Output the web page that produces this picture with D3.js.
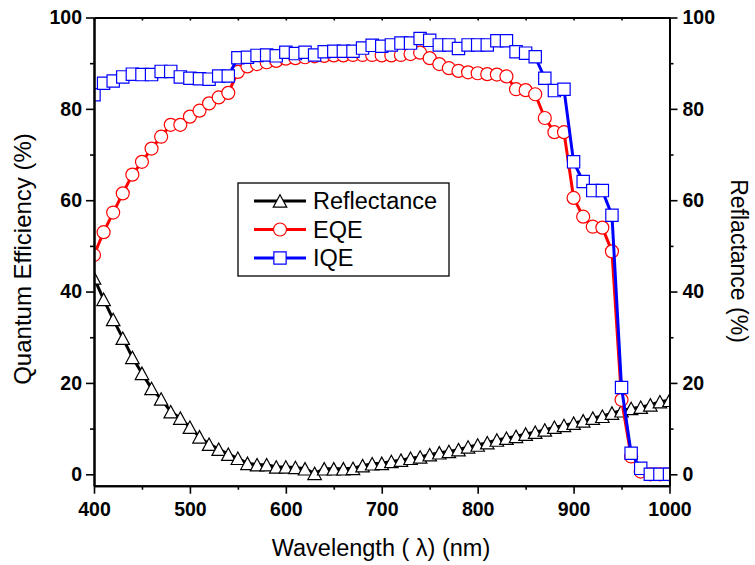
<!DOCTYPE html>
<html>
<head>
<meta charset="utf-8">
<script src="https://cdn.jsdelivr.net/npm/d3@7"></script>
<style>
  body { margin: 0; background: #fff; }
  svg { display: block; font-family: "Liberation Sans", Arial, sans-serif; }
  .tick text { font-weight: bold; font-size: 19.5px; fill: #000; }
  .axis path, .axis line { stroke: #000; }
</style>
</head>
<body>
<div id="chart"></div>
<script>
// wavelength (nm)
const wavelength = [400, 410, 420, 430, 440, 450, 460, 470, 480, 490, 500, 510, 520, 530, 540, 550,
  560, 570, 580, 590, 600, 610, 620, 630, 640, 650, 660, 670, 680, 690, 700,
  710, 720, 730, 740, 750, 760, 770, 780, 790, 800, 810, 820, 830, 840, 850,
  860, 870, 880, 890, 900, 910, 920, 930, 940, 950, 960, 970, 980, 990, 1000];

const reflectance = [43.0, 38.3, 33.9, 29.8, 25.6, 22.1, 18.8, 16.5, 13.7, 12.3, 10.3, 8.2, 6.6, 5.5, 4.4, 3.5,
  2.4, 2.1, 2.1, 1.6, 1.6, 1.5, 1.2, 0.2, 1.2, 1.2, 1.2, 1.3, 1.9, 2.3, 2.4,
  2.8, 3.1, 3.5, 3.8, 4.3, 4.7, 5.0, 5.4, 6.0, 6.4, 6.9, 7.5, 7.9, 8.3, 8.8,
  9.2, 9.7, 10.3, 10.7, 11.2, 11.7, 12.3, 12.7, 13.4, 13.9, 14.4, 14.7, 15.2, 15.9, 16.2];

const eqe = [48.0, 53.0, 57.3, 61.5, 65.6, 68.4, 71.3, 73.9, 76.5, 76.5, 78.3, 79.6, 81.2, 82.5, 83.5, 88.1,
  89.3, 89.8, 90.2, 90.5, 91.0, 91.1, 91.3, 91.5, 91.6, 91.7, 91.7, 91.8, 91.8, 91.8, 91.7,
  91.7, 91.8, 92.0, 92.3, 91.1, 89.8, 88.9, 88.3, 88.0, 87.8, 87.6, 87.5, 87.1, 84.3, 84.1,
  83.2, 78.0, 74.9, 74.9, 60.5, 56.4, 54.2, 54.0, 48.8, 16.3, 3.9, 0.6, 0, 0, 0];

const iqe = [83.1, 85.6, 86.1, 87.0, 87.6, 87.5, 87.5, 88.2, 88.2, 87.0, 86.7, 86.6, 86.5, 87.2, 87.2, 91.2,
  91.3, 91.7, 91.8, 91.6, 92.4, 92.1, 92.4, 91.8, 92.5, 92.6, 92.6, 92.6, 93.3, 93.9, 93.7,
  94.0, 94.4, 94.4, 95.4, 95.0, 94.0, 94.0, 93.2, 94.0, 94.0, 94.0, 94.9, 94.9, 92.5, 92.2,
  91.4, 86.7, 84.0, 84.3, 68.4, 64.1, 62.1, 62.1, 56.7, 19.0, 4.6, 1.3, 0, 0, 0];

const xMajor = [400, 500, 600, 700, 800, 900, 1000];
const xMinor = [450, 550, 650, 750, 850, 950];
const yMajor = [0, 20, 40, 60, 80, 100];
const yMinor = [10, 30, 50, 70, 90];

const width = 755, height = 565;
const margin = { left: 94, right: 85.5, top: 17.5, bottom: 79.3 };

const svg = d3.select("#chart").append("svg")
  .attr("width", width)
  .attr("height", height);

const x = d3.scaleLinear().domain([400, 1000]).range([margin.left, width - margin.right]);
const y = d3.scaleLinear().domain([-2.5, 100]).range([height - margin.bottom, margin.top]);

// custom marker shapes for d3.symbol (size = box width in px)
const triangleUp = {
  draw(ctx, s) {
    const h = s / 2;
    ctx.moveTo(0, -h * 0.92);
    ctx.lineTo(h, h * 0.92);
    ctx.lineTo(-h, h * 0.92);
    ctx.closePath();
  }
};
const squareBox = {
  draw(ctx, s) {
    const h = s / 2;
    ctx.rect(-h, -h, s, s);
  }
};
const circleBox = {
  draw(ctx, s) {
    const r = s / 2;
    ctx.moveTo(r, 0);
    ctx.arc(0, 0, r, 0, 2 * Math.PI);
  }
};

const series = [
  { name: "Reflectance", values: reflectance, color: "#000000", shape: triangleUp, size: 13.5 },
  { name: "EQE", values: eqe, color: "#ff0000", shape: circleBox, size: 13 },
  { name: "IQE", values: iqe, color: "#0000ff", shape: squareBox, size: 12.3 }
];

svg.append("clipPath").attr("id", "plotClip")
  .append("rect")
  .attr("x", x.range()[0]).attr("y", y.range()[1])
  .attr("width", x.range()[1] - x.range()[0])
  .attr("height", y.range()[0] - y.range()[1]);

const plot = svg.append("g").attr("clip-path", "url(#plotClip)");

const line = d3.line()
  .x((d, i) => x(wavelength[i]))
  .y(d => y(d));

series.forEach(s => {
  const g = plot.append("g");
  g.append("path")
    .datum(s.values)
    .attr("fill", "none")
    .attr("stroke", s.color)
    .attr("stroke-width", 3)
    .attr("stroke-linejoin", "round")
    .attr("d", line);

  g.selectAll("path.marker")
    .data(s.values)
    .join("path")
    .attr("class", "marker")
    .attr("transform", (d, i) => `translate(${x(wavelength[i])},${y(d)})`)
    .attr("d", d3.symbol(s.shape, s.size))
    .attr("fill", "#fff")
    .attr("stroke", s.color)
    .attr("stroke-width", 1.2);
});

// axes
const fmt = d3.format("d");

const axisBottomG = svg.append("g").attr("class", "axis")
  .attr("transform", `translate(0,${y.range()[0]})`);
axisBottomG.call(d3.axisBottom(x).tickValues(xMajor).tickFormat(fmt).tickSize(8).tickPadding(8).tickSizeOuter(0));
axisBottomG.append("g").call(d3.axisBottom(x).tickValues(xMinor).tickSize(4).tickFormat("").tickSizeOuter(0));

const axisTopG = svg.append("g").attr("class", "axis")
  .attr("transform", `translate(0,${y.range()[1]})`);
axisTopG.call(d3.axisBottom(x).tickValues(xMajor.concat(xMinor)).tickSize(3).tickFormat("").tickSizeOuter(0));

const axisLeftG = svg.append("g").attr("class", "axis")
  .attr("transform", `translate(${x.range()[0]},0)`);
axisLeftG.call(d3.axisLeft(y).tickValues(yMajor).tickFormat(fmt).tickSize(8).tickPadding(4).tickSizeOuter(0));
axisLeftG.append("g").call(d3.axisLeft(y).tickValues(yMinor).tickSize(4).tickFormat("").tickSizeOuter(0));

const axisRightG = svg.append("g").attr("class", "axis")
  .attr("transform", `translate(${x.range()[1]},0)`);
axisRightG.call(d3.axisRight(y).tickValues(yMajor).tickFormat(fmt).tickSize(8).tickPadding(5).tickSizeOuter(0));
axisRightG.append("g").call(d3.axisRight(y).tickValues(yMinor).tickSize(4).tickFormat("").tickSizeOuter(0));

svg.selectAll(".axis path.domain").attr("stroke-width", 2);
svg.selectAll(".axis line").attr("stroke-width", 1.6);

// axis titles
svg.append("text")
  .attr("x", 381)
  .attr("y", 556)
  .attr("text-anchor", "middle")
  .attr("font-size", 23.5)
  .text("Wavelength ( λ) (nm)");

svg.append("text")
  .attr("transform", "translate(31,259) rotate(-90)")
  .attr("text-anchor", "middle")
  .attr("font-size", 24)
  .text("Quantum Efficiency (%)");

svg.append("text")
  .attr("transform", "translate(731,261) rotate(90)")
  .attr("text-anchor", "middle")
  .attr("font-size", 23)
  .text("Reflactance (%)");

// legend
const legend = svg.append("g").attr("transform", "translate(238,183)");
legend.append("rect")
  .attr("width", 211).attr("height", 93)
  .attr("fill", "#fff").attr("stroke", "#000").attr("stroke-width", 1.3);

const item = legend.selectAll("g.item")
  .data(series)
  .join("g")
  .attr("class", "item")
  .attr("transform", (d, i) => `translate(0,${18 + i * 28.5})`);

item.append("line")
  .attr("x1", 16).attr("x2", 68)
  .attr("stroke", d => d.color).attr("stroke-width", 3);
item.append("path")
  .attr("transform", "translate(42,0)")
  .attr("d", d => d3.symbol(d.shape, d.size)())
  .attr("fill", "#fff")
  .attr("stroke", d => d.color)
  .attr("stroke-width", 1.2);
item.append("text")
  .attr("x", 75).attr("dy", "0.35em")
  .attr("font-size", 23.5)
  .text(d => d.name);
</script>
</body>
</html>
